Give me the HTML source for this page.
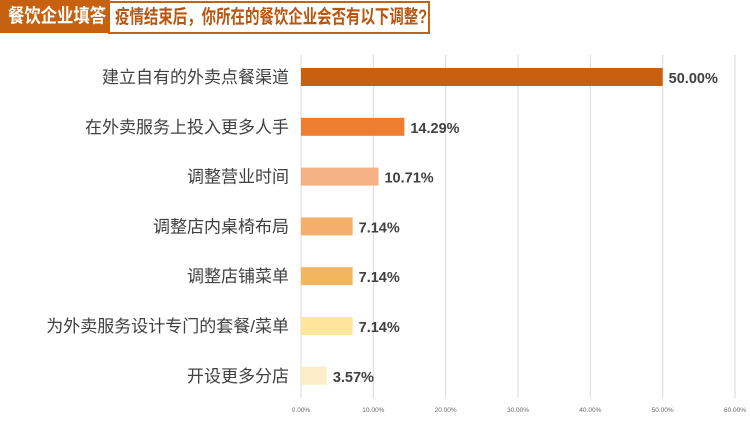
<!DOCTYPE html>
<html><head><meta charset="utf-8">
<style>
body{margin:0;width:750px;height:423px;background:#fff;overflow:hidden;font-family:"Liberation Sans","Noto Sans CJK SC",sans-serif;}
#hdr1{position:absolute;left:0;top:0;width:110px;height:33px;background:#c6620f;color:#fff;font-weight:bold;font-size:19px;line-height:33px;white-space:nowrap;overflow:hidden;}
#hdr1 span{display:inline-block;transform:scaleX(0.86);transform-origin:left center;margin-left:8px;}
#hdr2{position:absolute;left:108px;top:1px;width:318px;height:29px;border:2px solid #c6620f;background:#fff;color:#b8550e;font-weight:bold;font-size:19px;line-height:29px;white-space:nowrap;overflow:hidden;}
#hdr2 span{display:inline-block;transform:scaleX(0.76);transform-origin:left center;margin-left:5px;}
</style></head><body>
<div id="hdr1"><span>餐饮企业填答</span></div>
<div id="hdr2"><span>疫情结束后，你所在的餐饮企业会否有以下调整?</span></div>
<svg id="chart" width="750" height="423" style="position:absolute;left:0;top:0"></svg>
<script>
const categories=["建立自有的外卖点餐渠道","在外卖服务上投入更多人手","调整营业时间","调整店内桌椅布局","调整店铺菜单","为外卖服务设计专门的套餐/菜单","开设更多分店"];
const values=[50.00,14.29,10.71,7.14,7.14,7.14,3.57];
const ticks=[0,10,20,30,40,50,60];
const colors=["#c8600f","#ed7d31","#f4b183","#f4b06a","#f2b660","#ffe69c","#fdecc8"];
const svg=document.getElementById('chart');
const NS="http://www.w3.org/2000/svg";
const x=v=>301+v*(735-301)/60;
const y=i=>77+i*49.8;
function mk(t,a){const e=document.createElementNS(NS,t);for(const k in a)e.setAttribute(k,a[k]);svg.appendChild(e);return e;}
ticks.forEach(t=>{
 const l=mk('line',{x1:x(t),x2:x(t),y1:55,y2:398,stroke:'#d9d9d9','stroke-width':1});
 
 
 const tx=mk('text',{x:x(t),y:412,'font-size':6.5,fill:'#666','text-anchor':'middle'});
 tx.textContent=t.toFixed(2)+'%';
 
 
});
categories.forEach((c,i)=>{
 const r=mk('rect',{x:x(0),y:y(i)-9,width:x(values[i])-x(0),height:18,fill:colors[i]});
 
 
 const lab=mk('text',{x:289,y:y(i)+6,'font-size':17,fill:'#404040','text-anchor':'end'});
 lab.textContent=c;
 
 
 const v=mk('text',{x:x(values[i])+6,y:y(i)+6,'font-size':14.5,'font-weight':'bold',fill:'#404040'});
 v.textContent=values[i].toFixed(2)+'%';
 
 
});
</script>
</body></html>
